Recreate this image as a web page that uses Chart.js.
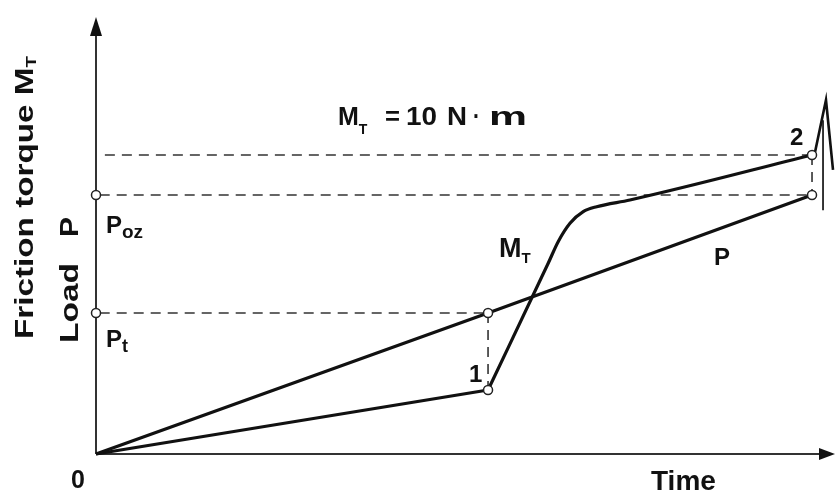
<!DOCTYPE html>
<html>
<head>
<meta charset="utf-8">
<script src="https://cdn.jsdelivr.net/npm/chart.js@4"></script>
<style>
  html, body { margin: 0; padding: 0; background: #fff; overflow: hidden; }
  canvas { display: block; }
</style>
</head>
<body>
<canvas id="chart" width="835" height="496"></canvas>
<script>
// Schematic values, in arbitrary units (time 0..100, load/torque 0..100)
const loadP = [{x: 0, y: 0}, {x: 53.05, y: 32.27}, {x: 96.89, y: 59.27}];
const torqueLow = [{x: 0, y: 0}, {x: 53.05, y: 14.65}];
const torqueHigh = [
  {x: 53.05, y: 14.65}, {x: 61.19, y: 43.64}, {x: 62.54, y: 48.58}, {x: 64.14, y: 52.79},
  {x: 65.93, y: 55.45}, {x: 67.75, y: 56.59}, {x: 72.25, y: 58.12}, {x: 96.89, y: 68.42}
];
const levelMt = 68.42;  // M_T = 10 N·m
const levelPoz = 59.27; // P_oz
const levelPt = 32.27;  // P_t
const t1 = 53.05;
const t2 = 96.89;
const guideTop = [{x: 1.2, y: levelMt}, {x: 96.35, y: levelMt}];
const guidePoz = [{x: 0.5, y: levelPoz}, {x: 96.35, y: levelPoz}];
const guidePt = [{x: 0.5, y: levelPt}, {x: 52.6, y: levelPt}];
const guideV1 = [{x: t1, y: levelPt}, {x: t1, y: 14.65}];
const guideV2 = [{x: t2, y: levelMt}, {x: t2, y: levelPoz}];
const markers = [
  {x: 0, y: levelPoz}, {x: 0, y: levelPt}, {x: t1, y: levelPt},
  {x: t1, y: 14.65}, {x: t2, y: levelMt}, {x: t2, y: levelPoz}
];
const breakA = [{x: 97.3, y: 69.1}, {x: 98.78, y: 81.0}, {x: 99.73, y: 65.0}];
const breakB = [{x: 98.38, y: 76.4}, {x: 98.38, y: 55.8}];

const FONT = '"Liberation Sans", Arial, sans-serif';
const ink = '#111';

function dashed(data) {
  return { data, borderColor: '#333', borderWidth: 1.6, borderDash: [10, 7],
           pointRadius: 0, tension: 0, clip: false };
}

// draw text squeezed/stretched to a given width
function fit(ctx, txt, x, y, size, width) {
  ctx.font = 'bold ' + size + 'px ' + FONT;
  const w = ctx.measureText(txt).width;
  ctx.save();
  ctx.translate(x, y);
  ctx.scale(width / w, 1);
  ctx.fillText(txt, 0, 0);
  ctx.restore();
}

// axes with arrow heads + all the labels
const schematic = {
  id: 'schematic',
  beforeDatasetsDraw(chart) {
    const ctx = chart.ctx, xs = chart.scales.x, ys = chart.scales.y;
    const x0 = xs.getPixelForValue(0), y0 = ys.getPixelForValue(0);
    const xEnd = xs.getPixelForValue(100), yEnd = ys.getPixelForValue(100);
    ctx.save();
    ctx.strokeStyle = '#333';
    ctx.fillStyle = '#111';
    ctx.lineWidth = 2;
    ctx.beginPath();
    ctx.moveTo(x0, y0); ctx.lineTo(x0, yEnd + 10);
    ctx.moveTo(x0, y0); ctx.lineTo(xEnd - 8, y0);
    ctx.stroke();
    ctx.beginPath();
    ctx.moveTo(x0, yEnd); ctx.lineTo(x0 - 6, yEnd + 19); ctx.lineTo(x0 + 6, yEnd + 19); ctx.closePath();
    ctx.fill();
    ctx.beginPath();
    ctx.moveTo(xEnd, y0); ctx.lineTo(xEnd - 16, y0 - 6); ctx.lineTo(xEnd - 16, y0 + 6); ctx.closePath();
    ctx.fill();
    ctx.restore();
  },
  afterDraw(chart) {
    const ctx = chart.ctx;
    ctx.save();
    ctx.fillStyle = ink;
    ctx.textBaseline = 'alphabetic';

    function sub(main, s, x, y, size, subSize, dy) {
      ctx.font = 'bold ' + size + 'px ' + FONT;
      ctx.fillText(main, x, y);
      const w = ctx.measureText(main).width;
      ctx.font = 'bold ' + subSize + 'px ' + FONT;
      ctx.fillText(s, x + w, y + dy);
      return x + w + ctx.measureText(s).width;
    }

    // vertical axis titles
    ctx.save();
    ctx.translate(33, 339);
    ctx.rotate(-Math.PI / 2);
    ctx.scale(1.33, 1);
    sub('Friction torque M', 'T', 0, 0, 25, 14, 3);
    ctx.restore();
    ctx.save();
    ctx.translate(78, 343);
    ctx.rotate(-Math.PI / 2);
    fit(ctx, 'Load', 0, 0, 25, 80);
    fit(ctx, 'P', 106, 0, 25, 20);
    ctx.restore();

    // headline
    sub('M', 'T', 338, 125, 25, 14, 9);
    fit(ctx, '=', 385, 125, 25, 15);
    fit(ctx, '10', 406, 125, 25, 31);
    fit(ctx, 'N', 447, 125, 25, 20);
    fit(ctx, '\u00b7', 473, 125, 25, 7);
    fit(ctx, 'm', 489, 125, 25, 38);

    sub('P', 'oz', 106, 233, 24, 19, 5);
    sub('P', 't', 106, 347, 24, 18, 5);
    sub('M', 'T', 499, 257, 27, 15, 6);

    ctx.font = 'bold 24px ' + FONT;
    ctx.fillText('P', 714, 265);
    ctx.fillText('1', 469, 382);
    ctx.fillText('2', 790, 145);
    ctx.font = 'bold 25px ' + FONT;
    ctx.fillText('0', 71, 488);
    ctx.font = 'bold 28px ' + FONT;
    ctx.fillText('Time', 651, 490);
    ctx.restore();
  }
};

new Chart(document.getElementById('chart'), {
  type: 'line',
  data: {
    datasets: [
      { data: markers, showLine: false, pointRadius: 4.5, pointBackgroundColor: '#fff',
        pointBorderColor: '#222', pointBorderWidth: 1.5, clip: false },
      { data: loadP, borderColor: ink, borderWidth: 3.2, pointRadius: 0, tension: 0, clip: false },
      { data: torqueLow, borderColor: ink, borderWidth: 3.2, pointRadius: 0, tension: 0, clip: false },
      { data: torqueHigh, borderColor: ink, borderWidth: 3.2, pointRadius: 0,
        cubicInterpolationMode: 'monotone', clip: false },
      dashed(guideTop), dashed(guidePoz), dashed(guidePt), dashed(guideV1), dashed(guideV2),
      { data: breakA, borderColor: '#111', borderWidth: 2.6, pointRadius: 0, tension: 0, clip: false },
      { data: breakB, borderColor: '#222', borderWidth: 1.8, pointRadius: 0, tension: 0, clip: false }
    ]
  },
  options: {
    responsive: false,
    animation: false,
    layout: { autoPadding: false, padding: { left: 96, top: 17, right: 0, bottom: 42 } },
    plugins: { legend: { display: false }, tooltip: { enabled: false } },
    scales: {
      x: { type: 'linear', min: 0, max: 100, display: false },
      y: { type: 'linear', min: 0, max: 100, display: false }
    }
  },
  plugins: [schematic]
});
</script>
</body>
</html>
